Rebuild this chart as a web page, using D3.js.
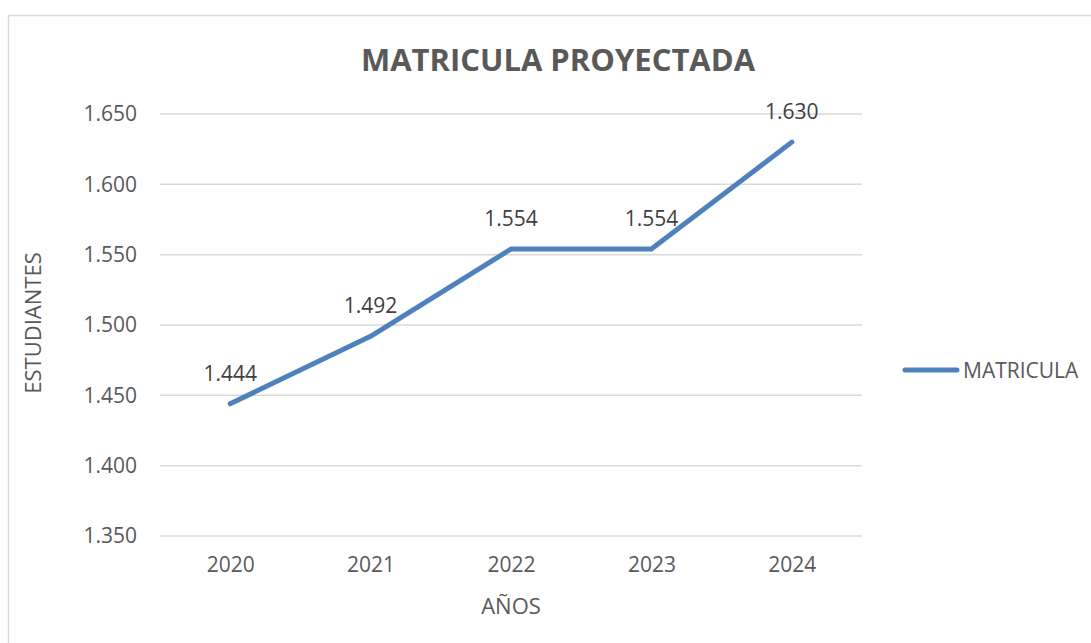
<!DOCTYPE html>
<html lang="es">
<head>
    <meta charset="UTF-8">
    <title>Matricula proyectada</title>
    <script src="https://d3js.org/d3.v7.min.js"></script>
    <style>
        body { margin: 0; background: #fff; }
        text { font-family: "Open Sans", "Noto Sans", sans-serif; fill: #595959; }
    </style>
</head>
<body>
<script>
    var years = ["2020", "2021", "2022", "2023", "2024"];
    var matricula = [1444, 1492, 1554, 1554, 1630];
    var yTicks = [1350, 1400, 1450, 1500, 1550, 1600, 1650];
    var seriesName = "MATRICULA";

    var W = 1091, H = 643;
    var margin = {top: 114, right: 229, bottom: 107, left: 160},
        width = W - margin.left - margin.right,
        height = H - margin.top - margin.bottom;

    var svg = d3.select("body").append("svg")
        .attr("width", W)
        .attr("height", H);

    // chart border
    svg.append("rect")
        .attr("x", 8.5).attr("y", 15.5)
        .attr("width", W + 20).attr("height", H + 20)
        .attr("fill", "none")
        .attr("stroke", "#d9d9d9")
        .attr("stroke-width", 1.5);

    var g = svg.append("g")
        .attr("transform", "translate(" + margin.left + "," + margin.top + ")");

    var x = d3.scalePoint()
        .domain(years)
        .range([0, width])
        .padding(0.5);

    var y = d3.scaleLinear()
        .domain([1350, 1650])
        .range([height, 0]);

    // thousands with "." like the spanish format
    var fmt = function(v) { return d3.format(",")(v).replace(/,/g, "."); };

    // gridlines
    g.selectAll(".grid")
        .data(yTicks)
        .enter().append("line")
        .attr("x1", 0).attr("x2", width)
        .attr("y1", function(d) { return y(d); })
        .attr("y2", function(d) { return y(d); })
        .attr("stroke", "#d9d9d9")
        .attr("stroke-width", 1.5);

    // y axis labels
    var yAxis = g.append("g")
        .call(d3.axisLeft(y).tickValues(yTicks).tickFormat(fmt).tickSize(0).tickPadding(23));
    yAxis.select(".domain").remove();
    yAxis.selectAll("text")
        .style("font-size", "21px")
        .attr("fill", "#595959");

    // x axis labels
    var xAxis = g.append("g")
        .attr("transform", "translate(0," + height + ")")
        .call(d3.axisBottom(x).tickSize(0).tickPadding(21));
    xAxis.select(".domain").remove();
    xAxis.selectAll("text")
        .style("font-size", "21px")
        .attr("fill", "#595959");

    // line
    var line = d3.line()
        .x(function(d, i) { return x(years[i]); })
        .y(function(d) { return y(d); });

    g.append("path")
        .datum(matricula)
        .attr("d", line)
        .attr("fill", "none")
        .attr("stroke", "#4f81bd")
        .attr("stroke-width", 5)
        .attr("stroke-linecap", "round")
        .attr("stroke-linejoin", "round");

    // data labels
    g.selectAll(".lbl")
        .data(matricula)
        .enter().append("text")
        .attr("x", function(d, i) { return x(years[i]); })
        .attr("y", function(d) { return y(d) - 23; })
        .attr("text-anchor", "middle")
        .style("font-size", "21px")
        .style("fill", "#404040")
        .text(fmt);

    // title
    svg.append("text")
        .attr("x", 558)
        .attr("y", 71)
        .attr("text-anchor", "middle")
        .style("font-size", "31px")
        .style("font-weight", "bold")
        .text("MATRICULA PROYECTADA");

    // axis titles
    svg.append("text")
        .attr("x", 511)
        .attr("y", 614)
        .attr("text-anchor", "middle")
        .style("font-size", "22px")
        .text("AÑOS");

    svg.append("text")
        .attr("transform", "translate(41," + (margin.top + height / 2 - 2) + ") rotate(-90)")
        .attr("text-anchor", "middle")
        .style("font-size", "22px")
        .text("ESTUDIANTES");

    // legend
    var leg = svg.append("g").attr("transform", "translate(905,370)");
    leg.append("line")
        .attr("x1", 0).attr("x2", 52)
        .attr("stroke", "#4f81bd")
        .attr("stroke-width", 5)
        .attr("stroke-linecap", "round");
    leg.append("text")
        .attr("x", 58).attr("y", 7.5)
        .style("font-size", "21px")
        .text(seriesName);
</script>
</body>
</html>
